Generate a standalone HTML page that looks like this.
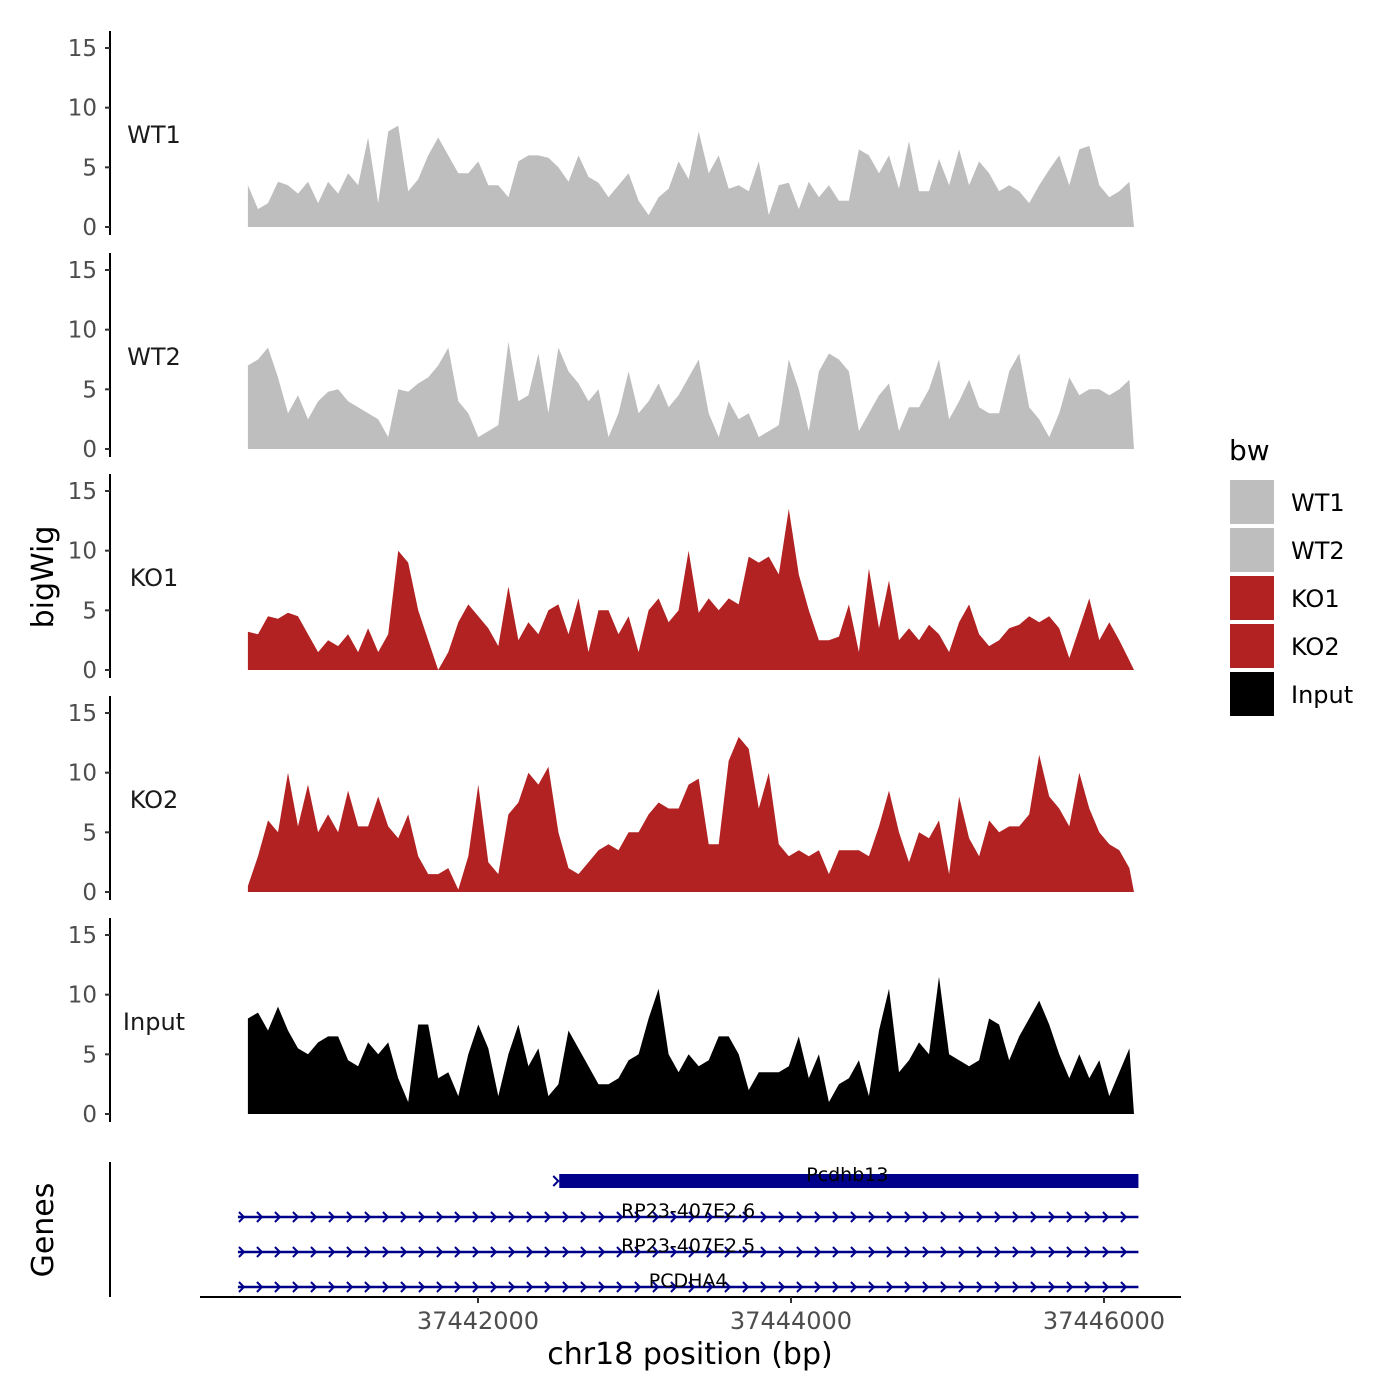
<!DOCTYPE html>
<html><head><meta charset="utf-8">
<style>
html,body{margin:0;padding:0;background:#fff;}
svg{display:block;font-family:"DejaVu Sans","Liberation Sans",sans-serif;}
</style></head>
<body>
<svg id="chart" width="1400" height="1400" viewBox="0 0 1400 1400" xmlns="http://www.w3.org/2000/svg">
<rect width="1400" height="1400" fill="#fff"/>
<g id="tracks"></g>
<g id="genes"></g>
<g id="axes"></g>
<g id="legend"></g>
</svg>
<script>
const trackNames = ["WT1","WT2","KO1","KO2","Input"];
const trackColors = ["#bebebe","#bebebe","#b22222","#b22222","#000000"];
const startBp = 37440530;
const stepBp = 64;
const wt1 = [3.5,1.5,2,3.8,3.5,2.8,3.8,2,3.8,2.8,4.5,3.5,7.5,2,8,8.5,3,4,6,7.5,6,4.5,4.5,5.5,3.5,3.5,2.5,5.5,6,6,5.8,5,3.8,6,4.2,3.7,2.5,3.5,4.5,2.2,1,2.5,3.2,5.5,4,8,4.5,6,3.2,3.5,3,5.5,1,3.5,3.7,1.5,3.8,2.5,3.5,2.2,2.2,6.5,6,4.5,6,3.2,7.2,3,3,5.7,3.5,6.5,3.5,5.5,4.5,3,3.5,3,2,3.5,4.8,6,3.5,6.5,6.8,3.5,2.5,3,3.8];
const wt2 = [7,7.5,8.5,6,3,4.5,2.5,4,4.8,5,4,3.5,3,2.5,1,5,4.8,5.5,6,7,8.5,4,3,1,1.5,2,9,4,4.5,8,3,8.5,6.5,5.5,4,5,1,3,6.5,3,4,5.5,3.5,4.5,6,7.5,3,1,4,2.5,3,1,1.5,2,7.5,5,1.5,6.5,8,7.5,6.5,1.5,3,4.5,5.5,1.5,3.5,3.5,5,7.5,2.5,4,5.8,3.5,3,3,6.5,8,3.5,2.5,1,3,6,4.5,5,5,4.5,5,5.8];
const ko1 = [3.2,3,4.5,4.3,4.8,4.5,3,1.5,2.5,2,3,1.5,3.5,1.5,3,10,9,5,2.5,0,1.5,4,5.5,4.5,3.5,2,7,2.5,4,3,5,5.5,3,6,1.5,5,5,3,4.5,1.5,5,6,4,5,10,4.8,6,5,6,5.5,9.5,9,9.5,8,13.5,8,5,2.5,2.5,2.8,5.5,1.5,8.5,3.5,7.5,2.5,3.5,2.5,3.8,3,1.5,4,5.5,3,2,2.5,3.5,3.8,4.5,4,4.5,3.5,1,3.5,6,2.5,4,2.5,0.8];
const ko2 = [0.5,3,6,5,10,5.5,9,5,6.5,5,8.5,5.5,5.5,8,5.5,4.5,6.5,3,1.5,1.5,2,0.2,3,9,2.5,1.5,6.5,7.5,10,9,10.5,5,2,1.5,2.5,3.5,4,3.5,5,5,6.5,7.5,7,7,9,9.5,4,4,11,13,12,7,10,4,3,3.5,3,3.5,1.5,3.5,3.5,3.5,3,5.5,8.5,5,2.5,5,4.5,6,1.5,8,4.5,3,6,5,5.5,5.5,6.5,11.5,8,7,5.5,10,7,5,4,3.5,2];
const inputVals = [8,8.5,7,9,7,5.5,5,6,6.5,6.5,4.5,4,6,5,6,3,1,7.5,7.5,3,3.5,1.5,5,7.5,5.5,1.5,5,7.5,4,5.5,1.5,2.5,7,5.5,4,2.5,2.5,3,4.5,5,8,10.5,5,3.5,5,4,4.5,6.5,6.5,5,2,3.5,3.5,3.5,4,6.5,3,5,1,2.5,3,4.5,1.5,7,10.5,3.5,4.5,6,5,11.5,5,4.5,4,4.5,8,7.5,4.5,6.5,8,9.5,7.5,5,3,5,3,4.5,1.5,3.5,5.5];
const yTicks = [0,5,10,15];
const xTicks = [37442000,37444000,37446000];
const xTickLabels = ["37442000","37444000","37446000"];
const geneNames = ["Pcdhb13","RP23-407E2.6","RP23-407E2.5","PCDHA4"];
const geneStarts = [37442500,37440466,37440466,37440466];
const geneEnds = [37446220,37446220,37446220,37446220];
const geneThick = [true,false,false,false];
const legendLabels = ["WT1","WT2","KO1","KO2","Input"];
const legendColors = ["#bebebe","#bebebe","#b22222","#b22222","#000000"];

const NS="http://www.w3.org/2000/svg";
function mk(tag,attrs,parent){const e=document.createElementNS(NS,tag);for(const k in attrs)e.setAttribute(k,attrs[k]);parent.appendChild(e);return e;}
function xScale(bp){return 478+(bp-37442000)*(313/2000);}
const baselines=[227,449,670,892,1114];
const pxPerUnit=(227-48)/15;
function yScale(i,v){return baselines[i]-v*pxPerUnit;}
const series=[wt1,wt2,ko1,ko2,inputVals];
const tracksG=document.getElementById('tracks');
const axesG=document.getElementById('axes');
series.forEach((vals,i)=>{
  let d="M"+xScale(startBp).toFixed(1)+","+baselines[i];
  vals.forEach((v,j)=>{d+=" L"+xScale(startBp+j*stepBp).toFixed(1)+","+yScale(i,v).toFixed(1);});
  d+=" L"+xScale(startBp+(vals.length-1)*stepBp+30).toFixed(1)+","+baselines[i]+" Z";
  const p=mk('path',{d:d,fill:trackColors[i]},tracksG);
  
  
  const ax=mk('line',{x1:110,x2:110,y1:yScale(i,15)-17,y2:baselines[i]+8,stroke:'#000','stroke-width':2},axesG);
  
  
  yTicks.forEach(t=>{
    const y=yScale(i,t);
    const tk=mk('line',{x1:105,x2:110,y1:y,y2:y,stroke:'#333','stroke-width':2},axesG);
    
    
    const tl=mk('text',{x:97,y:y+8,'text-anchor':'end','font-size':23,fill:'#4d4d4d'},axesG);
    tl.textContent=t;
    
    
  });
  const lb=mk('text',{x:154,y:yScale(i,7.8)+9,'text-anchor':'middle','font-size':24,fill:'#1a1a1a'},axesG);
  lb.textContent=trackNames[i];
  
  
});
// gene track
const genesG=document.getElementById('genes');
const gAx=mk('line',{x1:110,x2:110,y1:1162,y2:1297,stroke:'#000','stroke-width':2},genesG);


const geneY=[1181,1217,1252,1287];
geneNames.forEach((n,i)=>{
  const x1=xScale(geneStarts[i]),x2=xScale(geneEnds[i]),y=geneY[i];
  const g=mk('g',{},genesG);
  
  
  if(geneThick[i]){
    mk('rect',{x:x1+3,y:y-7,width:x2-x1-3,height:14,fill:'#00008b'},g);
    mk('path',{d:`M${x1-3},${y-5} L${x1+2},${y} L${x1-3},${y+5}`,fill:'none',stroke:'#00008b','stroke-width':2},g);
  } else {
    mk('line',{x1:x1,x2:x2,y1:y,y2:y,stroke:'#00008b','stroke-width':2.5},g);
    for(let x=x1+4;x<=x2;x+=18){
      mk('path',{d:`M${x-3},${y-5} L${x+2},${y} L${x-3},${y+5}`,fill:'none',stroke:'#00008b','stroke-width':2},g);
    }
  }
  const t=mk('text',{x:(x1+x2)/2,y:y,'text-anchor':'middle','font-size':19,fill:'#000'},g);
  t.textContent=n;
});
// x axis
const xa=mk('line',{x1:200,x2:1181,y1:1297,y2:1297,stroke:'#000','stroke-width':2},axesG);


xTicks.forEach((t,i)=>{
  const x=xScale(t);
  const tk=mk('line',{x1:x,x2:x,y1:1297,y2:1303,stroke:'#333','stroke-width':2},axesG);
  
  
  const tl=mk('text',{x:x,y:1329,'text-anchor':'middle','font-size':24,fill:'#4d4d4d'},axesG);
  tl.textContent=xTickLabels[i];
  
  
});
const xt=mk('text',{x:690,y:1364,'text-anchor':'middle','font-size':30,fill:'#000'},axesG);
xt.textContent='chr18 position (bp)';


const yt=mk('text',{x:0,y:0,'text-anchor':'middle','font-size':30,fill:'#000',transform:'translate(53,577) rotate(-90)'},axesG);
yt.textContent='bigWig';


const gt=mk('text',{x:0,y:0,'text-anchor':'middle','font-size':30,fill:'#000',transform:'translate(53,1230) rotate(-90)'},axesG);
gt.textContent='Genes';


// legend
const legG=document.getElementById('legend');
const lt=mk('text',{x:1229,y:460,'font-size':28,fill:'#000'},legG);
lt.textContent='bw';


legendLabels.forEach((l,i)=>{
  const y=480+i*48;
  const g=mk('g',{},legG);
  
  
  mk('rect',{x:1230,y:y,width:44,height:44,fill:legendColors[i]},g);
  const t=mk('text',{x:1291,y:y+31,'font-size':24,fill:'#000'},g);
  t.textContent=l;
});
</script>
</body></html>
